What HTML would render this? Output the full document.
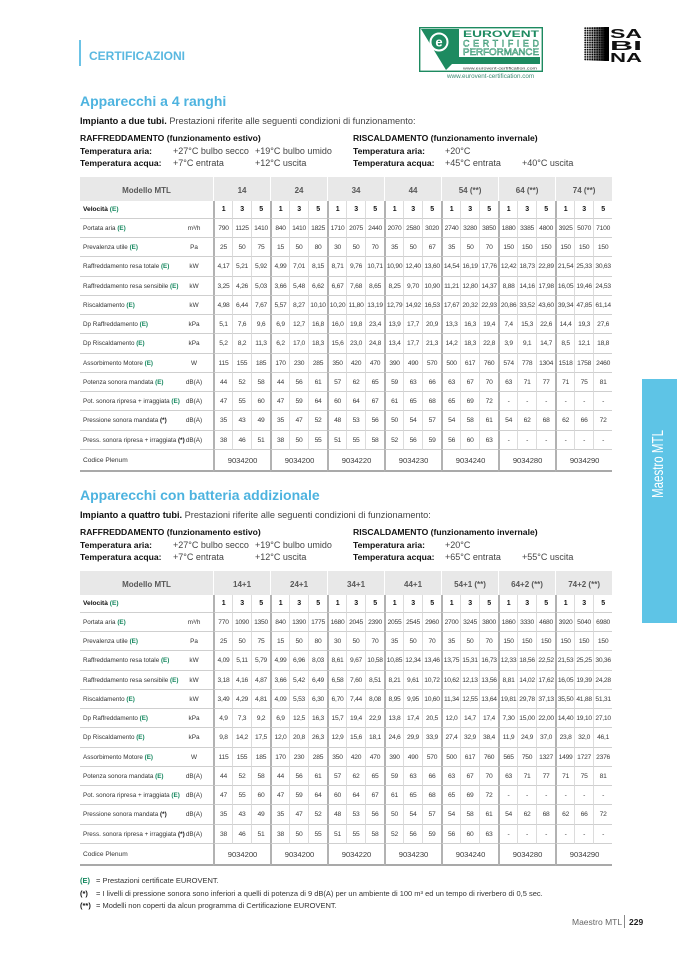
<!DOCTYPE html>
<html><head><meta charset="utf-8">
<style>
*{margin:0;padding:0;box-sizing:border-box}
body{width:677px;height:958px;position:relative;background:#fff;font-family:"Liberation Sans",sans-serif;color:#333;overflow:hidden}
.a{position:absolute;white-space:nowrap}
.h{color:#4db3df;font-weight:bold;font-size:14px;line-height:16px}
.t{font-size:9px;line-height:12px;color:#444}
.bb{font-weight:bold;color:#111;font-size:8.6px;line-height:12px}
.g{color:#14875e;font-weight:bold}
.k{font-weight:bold;color:#111}
table{position:absolute;left:80px;width:532px;border-collapse:separate;border-spacing:0;table-layout:fixed;font-size:6.7px;letter-spacing:-0.25px;color:#3a3a3a}
th,td{padding:0;text-align:center;white-space:nowrap;vertical-align:middle;overflow:visible}
th{background:#e8e8e8;color:#585858;font-size:8px;letter-spacing:0;font-weight:bold;border-left:1px solid #fff;padding-top:2px}
th.m{border-left:0}
td{border-left:1px solid #dcdcdc;border-bottom:1px solid #cfcfcf}
td.s{border-left:2px solid #b2b2b2}
td.L{border-left:0;text-align:left;padding-left:3px;font-size:6.3px;letter-spacing:0;color:#333}
td.u{border-left:0;font-size:6.4px;letter-spacing:0;padding-right:10px;color:#333}
tr.v td{font-weight:bold;color:#111;font-size:7px}
tr.v td.L{font-size:6.6px}
tr.c td{border-bottom:2px solid #a9a9a9;font-size:7.6px;letter-spacing:0}
tr.c td.L{font-size:6.6px}
.f{font-size:7.5px;line-height:12px;color:#333}
</style></head><body>

<!-- header -->
<div class="a" style="left:79px;top:40px;width:2px;height:26px;background:#6cc3e6"></div>
<div class="a" style="left:89px;top:49px;font-weight:bold;font-size:12px;line-height:14px;color:#5ab8e0">CERTIFICAZIONI</div>

<svg class="a" style="left:419px;top:27px" width="124" height="45" viewBox="0 0 124 45">
<rect x="0.7" y="0.7" width="122.6" height="43.6" fill="#fff" stroke="#1d8a60" stroke-width="1.4"/>
<polygon points="2,2 40,2 40,30 121,30 121,37 33,37 27,43" fill="#1d8a60"/>
<circle cx="20" cy="15" r="8.5" fill="none" stroke="#fff" stroke-width="2"/>
<text x="20" y="19.5" font-family="Liberation Sans" font-weight="bold" font-size="13" fill="#fff" text-anchor="middle">e</text>
<text x="44" y="10" font-family="Liberation Sans" font-weight="bold" font-size="9.5" fill="#1d8a60" textLength="76" lengthAdjust="spacingAndGlyphs">EUROVENT</text>
<text x="44" y="19.5" font-family="Liberation Sans" font-size="9" fill="#fff" stroke="#1d8a60" stroke-width="0.5" textLength="76" lengthAdjust="spacing">CERTIFIED</text>
<text x="44" y="28" font-family="Liberation Sans" font-size="9" fill="#fff" stroke="#1d8a60" stroke-width="0.5" textLength="76" lengthAdjust="spacingAndGlyphs">PERFORMANCE</text>
<text x="44" y="42.5" font-family="Liberation Sans" font-size="4" fill="#333" textLength="74" lengthAdjust="spacingAndGlyphs">www.eurovent-certification.com</text>
</svg>
<div class="a" style="left:447px;top:73px;font-size:6.3px;line-height:8px;color:#3d8c74">www.eurovent-certification.com</div>

<div class="a" style="left:584px;top:27px;width:25px;height:34px;background:radial-gradient(circle,#000 0.7px,transparent 1.1px) 0 0/2.4px 2.4px,linear-gradient(90deg,#fff 0%,#ddd 20%,#555 65%,#000 85%)"></div>
<svg class="a" style="left:610px;top:27px" width="36" height="36" viewBox="0 0 36 36">
<g font-family="Liberation Sans" font-weight="bold" fill="#111" font-size="13">
<text x="0" y="11" textLength="32" lengthAdjust="spacingAndGlyphs">SA</text>
<text x="0" y="23" textLength="32" lengthAdjust="spacingAndGlyphs">BI</text>
<text x="0" y="35" textLength="32" lengthAdjust="spacingAndGlyphs">NA</text>
</g></svg>

<!-- section 1 -->
<div class="a h" style="left:80px;top:93px">Apparecchi a 4 ranghi</div>
<div class="a t" style="left:80px;top:115px;font-size:9.2px"><span class="k">Impianto a due tubi.</span> Prestazioni riferite alle seguenti condizioni di funzionamento:</div>
<div class="a bb" style="left:80px;top:132px">RAFFREDDAMENTO (funzionamento estivo)</div>
<div class="a bb" style="left:353px;top:132px">RISCALDAMENTO (funzionamento invernale)</div>
<div class="a bb" style="left:80px;top:145px">Temperatura aria:</div>
<div class="a t" style="left:173px;top:145px">+27°C bulbo secco</div>
<div class="a t" style="left:255px;top:145px">+19°C bulbo umido</div>
<div class="a bb" style="left:353px;top:145px">Temperatura aria:</div>
<div class="a t" style="left:445px;top:145px">+20°C</div>
<div class="a bb" style="left:80px;top:157px">Temperatura acqua:</div>
<div class="a t" style="left:173px;top:157px">+7°C entrata</div>
<div class="a t" style="left:255px;top:157px">+12°C uscita</div>
<div class="a bb" style="left:353px;top:157px">Temperatura acqua:</div>
<div class="a t" style="left:445px;top:157px">+45°C entrata</div>
<div class="a t" style="left:522px;top:157px">+40°C uscita</div>

<table style="top:177px">
<colgroup><col style="width:105px"><col style="width:28px"><col span="21" style="width:19px"></colgroup>
<tr style="height:24px"><th class="m" colspan="2">Modello MTL</th><th colspan="3">14</th><th colspan="3">24</th><th colspan="3">34</th><th colspan="3">44</th><th colspan="3">54 (**)</th><th colspan="3">64 (**)</th><th colspan="3">74 (**)</th></tr>
<tr class="v" style="height:18px"><td class="L">Velocità <span class="g">(E)</span></td><td class="u"></td><td class="s">1</td><td>3</td><td>5</td><td class="s">1</td><td>3</td><td>5</td><td class="s">1</td><td>3</td><td>5</td><td class="s">1</td><td>3</td><td>5</td><td class="s">1</td><td>3</td><td>5</td><td class="s">1</td><td>3</td><td>5</td><td class="s">1</td><td>3</td><td>5</td></tr>
<tr style="height:19px"><td class="L">Portata aria <span class="g">(E)</span></td><td class="u">m³/h</td><td class="s">790</td><td>1125</td><td>1410</td><td class="s">840</td><td>1410</td><td>1825</td><td class="s">1710</td><td>2075</td><td>2440</td><td class="s">2070</td><td>2580</td><td>3020</td><td class="s">2740</td><td>3280</td><td>3850</td><td class="s">1880</td><td>3385</td><td>4800</td><td class="s">3925</td><td>5070</td><td>7100</td></tr>
<tr style="height:19px"><td class="L">Prevalenza utile <span class="g">(E)</span></td><td class="u">Pa</td><td class="s">25</td><td>50</td><td>75</td><td class="s">15</td><td>50</td><td>80</td><td class="s">30</td><td>50</td><td>70</td><td class="s">35</td><td>50</td><td>67</td><td class="s">35</td><td>50</td><td>70</td><td class="s">150</td><td>150</td><td>150</td><td class="s">150</td><td>150</td><td>150</td></tr>
<tr style="height:20px"><td class="L">Raffreddamento resa totale <span class="g">(E)</span></td><td class="u">kW</td><td class="s">4,17</td><td>5,21</td><td>5,92</td><td class="s">4,99</td><td>7,01</td><td>8,15</td><td class="s">8,71</td><td>9,76</td><td>10,71</td><td class="s">10,90</td><td>12,40</td><td>13,60</td><td class="s">14,54</td><td>16,19</td><td>17,76</td><td class="s">12,42</td><td>18,73</td><td>22,89</td><td class="s">21,54</td><td>25,33</td><td>30,63</td></tr>
<tr style="height:19px"><td class="L">Raffreddamento resa sensibile <span class="g">(E)</span></td><td class="u">kW</td><td class="s">3,25</td><td>4,26</td><td>5,03</td><td class="s">3,66</td><td>5,48</td><td>6,62</td><td class="s">6,67</td><td>7,68</td><td>8,65</td><td class="s">8,25</td><td>9,70</td><td>10,90</td><td class="s">11,21</td><td>12,80</td><td>14,37</td><td class="s">8,88</td><td>14,16</td><td>17,98</td><td class="s">16,05</td><td>19,46</td><td>24,53</td></tr>
<tr style="height:19px"><td class="L">Riscaldamento <span class="g">(E)</span></td><td class="u">kW</td><td class="s">4,98</td><td>6,44</td><td>7,67</td><td class="s">5,57</td><td>8,27</td><td>10,10</td><td class="s">10,20</td><td>11,80</td><td>13,19</td><td class="s">12,79</td><td>14,92</td><td>16,53</td><td class="s">17,67</td><td>20,32</td><td>22,93</td><td class="s">20,86</td><td>33,52</td><td>43,60</td><td class="s">39,34</td><td>47,85</td><td>61,14</td></tr>
<tr style="height:19px"><td class="L">Dp Raffreddamento <span class="g">(E)</span></td><td class="u">kPa</td><td class="s">5,1</td><td>7,6</td><td>9,6</td><td class="s">6,9</td><td>12,7</td><td>16,8</td><td class="s">16,0</td><td>19,8</td><td>23,4</td><td class="s">13,9</td><td>17,7</td><td>20,9</td><td class="s">13,3</td><td>16,3</td><td>19,4</td><td class="s">7,4</td><td>15,3</td><td>22,6</td><td class="s">14,4</td><td>19,3</td><td>27,6</td></tr>
<tr style="height:20px"><td class="L">Dp Riscaldamento <span class="g">(E)</span></td><td class="u">kPa</td><td class="s">5,2</td><td>8,2</td><td>11,3</td><td class="s">6,2</td><td>17,0</td><td>18,3</td><td class="s">15,6</td><td>23,0</td><td>24,8</td><td class="s">13,4</td><td>17,7</td><td>21,3</td><td class="s">14,2</td><td>18,3</td><td>22,8</td><td class="s">3,9</td><td>9,1</td><td>14,7</td><td class="s">8,5</td><td>12,1</td><td>18,8</td></tr>
<tr style="height:19px"><td class="L">Assorbimento Motore <span class="g">(E)</span></td><td class="u">W</td><td class="s">115</td><td>155</td><td>185</td><td class="s">170</td><td>230</td><td>285</td><td class="s">350</td><td>420</td><td>470</td><td class="s">390</td><td>490</td><td>570</td><td class="s">500</td><td>617</td><td>760</td><td class="s">574</td><td>778</td><td>1304</td><td class="s">1518</td><td>1758</td><td>2460</td></tr>
<tr style="height:19px"><td class="L">Potenza sonora mandata <span class="g">(E)</span></td><td class="u">dB(A)</td><td class="s">44</td><td>52</td><td>58</td><td class="s">44</td><td>56</td><td>61</td><td class="s">57</td><td>62</td><td>65</td><td class="s">59</td><td>63</td><td>66</td><td class="s">63</td><td>67</td><td>70</td><td class="s">63</td><td>71</td><td>77</td><td class="s">71</td><td>75</td><td>81</td></tr>
<tr style="height:19px"><td class="L">Pot. sonora ripresa + irraggiata <span class="g">(E)</span></td><td class="u">dB(A)</td><td class="s">47</td><td>55</td><td>60</td><td class="s">47</td><td>59</td><td>64</td><td class="s">60</td><td>64</td><td>67</td><td class="s">61</td><td>65</td><td>68</td><td class="s">65</td><td>69</td><td>72</td><td class="s">-</td><td>-</td><td>-</td><td class="s">-</td><td>-</td><td>-</td></tr>
<tr style="height:20px"><td class="L">Pressione sonora mandata <span class="k">(*)</span></td><td class="u">dB(A)</td><td class="s">35</td><td>43</td><td>49</td><td class="s">35</td><td>47</td><td>52</td><td class="s">48</td><td>53</td><td>56</td><td class="s">50</td><td>54</td><td>57</td><td class="s">54</td><td>58</td><td>61</td><td class="s">54</td><td>62</td><td>68</td><td class="s">62</td><td>66</td><td>72</td></tr>
<tr style="height:19px"><td class="L">Press. sonora ripresa + irraggiata <span class="k">(*)</span></td><td class="u">dB(A)</td><td class="s">38</td><td>46</td><td>51</td><td class="s">38</td><td>50</td><td>55</td><td class="s">51</td><td>55</td><td>58</td><td class="s">52</td><td>56</td><td>59</td><td class="s">56</td><td>60</td><td>63</td><td class="s">-</td><td>-</td><td>-</td><td class="s">-</td><td>-</td><td>-</td></tr>
<tr class="c" style="height:22px"><td class="L" colspan="2">Codice Plenum</td><td class="s" colspan="3">9034200</td><td class="s" colspan="3">9034200</td><td class="s" colspan="3">9034220</td><td class="s" colspan="3">9034230</td><td class="s" colspan="3">9034240</td><td class="s" colspan="3">9034280</td><td class="s" colspan="3">9034290</td></tr>
</table>

<!-- side tab -->
<svg class="a" style="left:642px;top:379px" width="35" height="244" viewBox="0 0 35 244">
<rect width="35" height="244" fill="#5ec4e6"/>
<text transform="translate(21,85) rotate(-90)" text-anchor="middle" font-family="Liberation Sans" font-size="16" fill="#fff" textLength="68" lengthAdjust="spacingAndGlyphs">Maestro MTL</text>
</svg>

<!-- section 2 -->
<div class="a h" style="left:80px;top:487px">Apparecchi con batteria addizionale</div>
<div class="a t" style="left:80px;top:509px;font-size:9.2px"><span class="k">Impianto a quattro tubi.</span> Prestazioni riferite alle seguenti condizioni di funzionamento:</div>
<div class="a bb" style="left:80px;top:526px">RAFFREDDAMENTO (funzionamento estivo)</div>
<div class="a bb" style="left:353px;top:526px">RISCALDAMENTO (funzionamento invernale)</div>
<div class="a bb" style="left:80px;top:539px">Temperatura aria:</div>
<div class="a t" style="left:173px;top:539px">+27°C bulbo secco</div>
<div class="a t" style="left:255px;top:539px">+19°C bulbo umido</div>
<div class="a bb" style="left:353px;top:539px">Temperatura aria:</div>
<div class="a t" style="left:445px;top:539px">+20°C</div>
<div class="a bb" style="left:80px;top:551px">Temperatura acqua:</div>
<div class="a t" style="left:173px;top:551px">+7°C entrata</div>
<div class="a t" style="left:255px;top:551px">+12°C uscita</div>
<div class="a bb" style="left:353px;top:551px">Temperatura acqua:</div>
<div class="a t" style="left:445px;top:551px">+65°C entrata</div>
<div class="a t" style="left:522px;top:551px">+55°C uscita</div>

<table style="top:571px">
<colgroup><col style="width:105px"><col style="width:28px"><col span="21" style="width:19px"></colgroup>
<tr style="height:24px"><th class="m" colspan="2">Modello MTL</th><th colspan="3">14+1</th><th colspan="3">24+1</th><th colspan="3">34+1</th><th colspan="3">44+1</th><th colspan="3">54+1 (**)</th><th colspan="3">64+2 (**)</th><th colspan="3">74+2 (**)</th></tr>
<tr class="v" style="height:18px"><td class="L">Velocità <span class="g">(E)</span></td><td class="u"></td><td class="s">1</td><td>3</td><td>5</td><td class="s">1</td><td>3</td><td>5</td><td class="s">1</td><td>3</td><td>5</td><td class="s">1</td><td>3</td><td>5</td><td class="s">1</td><td>3</td><td>5</td><td class="s">1</td><td>3</td><td>5</td><td class="s">1</td><td>3</td><td>5</td></tr>
<tr style="height:19px"><td class="L">Portata aria <span class="g">(E)</span></td><td class="u">m³/h</td><td class="s">770</td><td>1090</td><td>1350</td><td class="s">840</td><td>1390</td><td>1775</td><td class="s">1680</td><td>2045</td><td>2390</td><td class="s">2055</td><td>2545</td><td>2960</td><td class="s">2700</td><td>3245</td><td>3800</td><td class="s">1860</td><td>3330</td><td>4680</td><td class="s">3920</td><td>5040</td><td>6980</td></tr>
<tr style="height:19px"><td class="L">Prevalenza utile <span class="g">(E)</span></td><td class="u">Pa</td><td class="s">25</td><td>50</td><td>75</td><td class="s">15</td><td>50</td><td>80</td><td class="s">30</td><td>50</td><td>70</td><td class="s">35</td><td>50</td><td>70</td><td class="s">35</td><td>50</td><td>70</td><td class="s">150</td><td>150</td><td>150</td><td class="s">150</td><td>150</td><td>150</td></tr>
<tr style="height:20px"><td class="L">Raffreddamento resa totale <span class="g">(E)</span></td><td class="u">kW</td><td class="s">4,09</td><td>5,11</td><td>5,79</td><td class="s">4,99</td><td>6,96</td><td>8,03</td><td class="s">8,61</td><td>9,67</td><td>10,58</td><td class="s">10,85</td><td>12,34</td><td>13,46</td><td class="s">13,75</td><td>15,31</td><td>16,73</td><td class="s">12,33</td><td>18,56</td><td>22,52</td><td class="s">21,53</td><td>25,25</td><td>30,36</td></tr>
<tr style="height:19px"><td class="L">Raffreddamento resa sensibile <span class="g">(E)</span></td><td class="u">kW</td><td class="s">3,18</td><td>4,16</td><td>4,87</td><td class="s">3,66</td><td>5,42</td><td>6,49</td><td class="s">6,58</td><td>7,60</td><td>8,51</td><td class="s">8,21</td><td>9,61</td><td>10,72</td><td class="s">10,62</td><td>12,13</td><td>13,56</td><td class="s">8,81</td><td>14,02</td><td>17,62</td><td class="s">16,05</td><td>19,39</td><td>24,28</td></tr>
<tr style="height:19px"><td class="L">Riscaldamento <span class="g">(E)</span></td><td class="u">kW</td><td class="s">3,49</td><td>4,29</td><td>4,81</td><td class="s">4,09</td><td>5,53</td><td>6,30</td><td class="s">6,70</td><td>7,44</td><td>8,08</td><td class="s">8,95</td><td>9,95</td><td>10,60</td><td class="s">11,34</td><td>12,55</td><td>13,64</td><td class="s">19,81</td><td>29,78</td><td>37,13</td><td class="s">35,50</td><td>41,88</td><td>51,31</td></tr>
<tr style="height:19px"><td class="L">Dp Raffreddamento <span class="g">(E)</span></td><td class="u">kPa</td><td class="s">4,9</td><td>7,3</td><td>9,2</td><td class="s">6,9</td><td>12,5</td><td>16,3</td><td class="s">15,7</td><td>19,4</td><td>22,9</td><td class="s">13,8</td><td>17,4</td><td>20,5</td><td class="s">12,0</td><td>14,7</td><td>17,4</td><td class="s">7,30</td><td>15,00</td><td>22,00</td><td class="s">14,40</td><td>19,10</td><td>27,10</td></tr>
<tr style="height:20px"><td class="L">Dp Riscaldamento <span class="g">(E)</span></td><td class="u">kPa</td><td class="s">9,8</td><td>14,2</td><td>17,5</td><td class="s">12,0</td><td>20,8</td><td>26,3</td><td class="s">12,9</td><td>15,6</td><td>18,1</td><td class="s">24,6</td><td>29,9</td><td>33,9</td><td class="s">27,4</td><td>32,9</td><td>38,4</td><td class="s">11,9</td><td>24,9</td><td>37,0</td><td class="s">23,8</td><td>32,0</td><td>46,1</td></tr>
<tr style="height:19px"><td class="L">Assorbimento Motore <span class="g">(E)</span></td><td class="u">W</td><td class="s">115</td><td>155</td><td>185</td><td class="s">170</td><td>230</td><td>285</td><td class="s">350</td><td>420</td><td>470</td><td class="s">390</td><td>490</td><td>570</td><td class="s">500</td><td>617</td><td>760</td><td class="s">565</td><td>750</td><td>1327</td><td class="s">1499</td><td>1727</td><td>2376</td></tr>
<tr style="height:19px"><td class="L">Potenza sonora mandata <span class="g">(E)</span></td><td class="u">dB(A)</td><td class="s">44</td><td>52</td><td>58</td><td class="s">44</td><td>56</td><td>61</td><td class="s">57</td><td>62</td><td>65</td><td class="s">59</td><td>63</td><td>66</td><td class="s">63</td><td>67</td><td>70</td><td class="s">63</td><td>71</td><td>77</td><td class="s">71</td><td>75</td><td>81</td></tr>
<tr style="height:19px"><td class="L">Pot. sonora ripresa + irraggiata <span class="g">(E)</span></td><td class="u">dB(A)</td><td class="s">47</td><td>55</td><td>60</td><td class="s">47</td><td>59</td><td>64</td><td class="s">60</td><td>64</td><td>67</td><td class="s">61</td><td>65</td><td>68</td><td class="s">65</td><td>69</td><td>72</td><td class="s">-</td><td>-</td><td>-</td><td class="s">-</td><td>-</td><td>-</td></tr>
<tr style="height:20px"><td class="L">Pressione sonora mandata <span class="k">(*)</span></td><td class="u">dB(A)</td><td class="s">35</td><td>43</td><td>49</td><td class="s">35</td><td>47</td><td>52</td><td class="s">48</td><td>53</td><td>56</td><td class="s">50</td><td>54</td><td>57</td><td class="s">54</td><td>58</td><td>61</td><td class="s">54</td><td>62</td><td>68</td><td class="s">62</td><td>66</td><td>72</td></tr>
<tr style="height:19px"><td class="L">Press. sonora ripresa + irraggiata <span class="k">(*)</span></td><td class="u">dB(A)</td><td class="s">38</td><td>46</td><td>51</td><td class="s">38</td><td>50</td><td>55</td><td class="s">51</td><td>55</td><td>58</td><td class="s">52</td><td>56</td><td>59</td><td class="s">56</td><td>60</td><td>63</td><td class="s">-</td><td>-</td><td>-</td><td class="s">-</td><td>-</td><td>-</td></tr>
<tr class="c" style="height:22px"><td class="L" colspan="2">Codice Plenum</td><td class="s" colspan="3">9034200</td><td class="s" colspan="3">9034200</td><td class="s" colspan="3">9034220</td><td class="s" colspan="3">9034230</td><td class="s" colspan="3">9034240</td><td class="s" colspan="3">9034280</td><td class="s" colspan="3">9034290</td></tr>
</table>

<!-- footer notes -->
<div class="a f" style="left:80px;top:875px"><span class="g">(E)</span></div>
<div class="a f" style="left:96px;top:875px">= Prestazioni certificate EUROVENT.</div>
<div class="a f" style="left:80px;top:888px"><span class="k">(*)</span></div>
<div class="a f" style="left:96px;top:888px">= I livelli di pressione sonora sono inferiori a quelli di potenza di 9 dB(A) per un ambiente di 100 m³ ed un tempo di riverbero di 0,5 sec.</div>
<div class="a f" style="left:80px;top:900px"><span class="k">(**)</span></div>
<div class="a f" style="left:96px;top:900px">= Modelli non coperti da alcun programma di Certificazione EUROVENT.</div>

<div class="a" style="left:572px;top:916px;font-size:8.5px;line-height:12px;color:#666">Maestro MTL</div>
<div class="a" style="left:624px;top:915px;width:1px;height:13px;background:#888"></div>
<div class="a" style="left:629px;top:916px;font-size:8.5px;line-height:12px;font-weight:bold;color:#222">229</div>

</body></html>
